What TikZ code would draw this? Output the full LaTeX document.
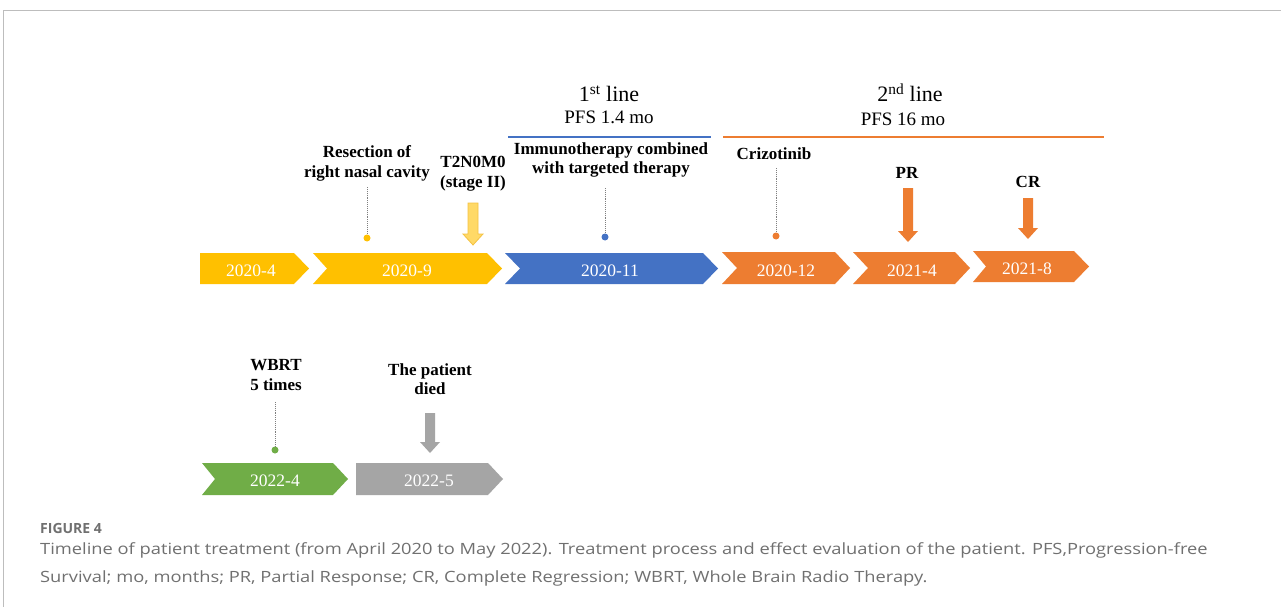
\documentclass[tikz,border=0pt]{standalone}
\usepackage{fontspec}
\setmainfont{Liberation Serif}
\newfontfamily\capfont[FakeStretch=1.18]{Open Sans}
\newfontfamily\figfont{Open Sans}
\definecolor{ycol}{HTML}{FFC000}
\definecolor{bcol}{HTML}{4472C4}
\definecolor{ocol}{HTML}{ED7D31}
\definecolor{gcol}{HTML}{70AD47}
\definecolor{grcol}{HTML}{A5A5A5}
\definecolor{dotcol}{HTML}{7F7F7F}
\definecolor{paley}{HTML}{FFD966}
\definecolor{paleyb}{HTML}{F4C242}
\definecolor{capgray}{HTML}{707070}
\definecolor{framecol}{HTML}{BDBDBD}
\newcommand{\tlchev}[6]{% left, tip, top, bottom, notch depth, colour
  \fill[#6] (#1,#3) -- (#2-15,#3) -- (#2,{(#3+#4)/2}) -- (#2-15,#4) -- (#1,#4) -- (#1+#5,{(#3+#4)/2}) -- cycle;}
\newcommand{\tlblock}[5]{% x, top, head start, tip, colour options
  \path[#5] (#1-5,#2) -- (#1+5,#2) -- (#1+5,#3) -- (#1+10,#3) -- (#1,#4) -- (#1-10,#3) -- (#1-5,#3) -- cycle;}
\begin{document}
\begin{tikzpicture}[x=1pt,y=-1pt,
  lbl/.style={font=\bfseries\fontsize{17}{20}\selectfont, anchor=base, inner sep=0pt},
  datetxt/.style={font=\fontsize{17.5}{20}\selectfont, text=white, anchor=base, inner sep=0pt},
  ttl/.style={font=\fontsize{22}{26}\selectfont, anchor=base, inner sep=0pt},
  pfs/.style={font=\fontsize{19}{22}\selectfont, anchor=base, inner sep=0pt},
  dotline/.style={draw=dotcol, densely dotted, line width=0.9pt},
  evdot/.style={circle, inner sep=0pt, minimum size=7pt},
  captxt/.style={font=\capfont\fontsize{15.5}{18}\selectfont, text=capgray, anchor=base west, inner sep=0pt}]
\useasboundingbox (0,0) rectangle (1281,607);
\fill[white] (0,0) rectangle (1281,607);
% frame
\draw[framecol, line width=1pt] (3,607) -- (3,11) -- (1281,11);

% chevrons, top row
\tlchev{200}{309}{253}{284}{0}{ycol}
\tlchev{313}{502}{253}{284}{14}{ycol}
\tlchev{505}{718}{253}{284}{15}{bcol}
\tlchev{722}{850}{252}{284}{15}{ocol}
\tlchev{853}{970}{252}{284}{15}{ocol}
\tlchev{973}{1089}{251}{282}{13}{ocol}
% chevrons, bottom row
\tlchev{202}{348}{463}{495}{13}{gcol}
\tlchev{356}{503}{463}{495}{0}{grcol}

\node[datetxt] (d1) at (251,276) {2020-4};
\node[datetxt] (d2) at (407,276) {2020-9};
\node[datetxt] (d3) at (610,276) {2020-11};
\node[datetxt] (d4) at (786,276) {2020-12};
\node[datetxt] (d5) at (912,276) {2021-4};
\node[datetxt] (d6) at (1027,274) {2021-8};
\node[datetxt] (d7) at (275,486) {2022-4};
\node[datetxt] (d8) at (429,486) {2022-5};

% line titles
\node[ttl] (l1) at (609,102) {1\textsuperscript{st} line};
\node[pfs] (p1) at (609,124) {PFS 1.4 mo};
\draw[bcol, line width=1.2pt] (508,137) -- (711,137);
\node[ttl] (l2) at (910,102) {2\textsuperscript{nd} line};
\node[pfs] (p2) at (903,125) {PFS 16 mo};
\draw[ocol, line width=1.2pt] (723,137) -- (1104,137);

% event labels
\node[lbl] (res1) at (367,157) {Resection of};
\node[lbl] (res2) at (367,177) {right nasal cavity};
\node[lbl] (tnm1) at (473,167) {T2N0M0};
\node[lbl] (tnm2) at (473,187) {(stage II)};
\node[lbl] (imm1) at (611,154) {Immunotherapy combined};
\node[lbl] (imm2) at (611,173) {with targeted therapy};
\node[lbl] (criz) at (774,159) {Crizotinib};
\node[lbl] (pr) at (907,178) {PR};
\node[lbl] (cr) at (1028,187) {CR};
\node[lbl] (wb1) at (276,370) {WBRT};
\node[lbl] (wb2) at (276,390) {5 times};
\node[lbl] (die1) at (430,375) {The patient};
\node[lbl] (die2) at (430,394) {died};

% dotted pointers with dots
\node[evdot, fill=ycol] (dres) at (367,238) {};
\coordinate (dresT) at (367,187);
\draw[dotline] (dresT) -- (dres);
\node[evdot, fill=bcol] (dimm) at (605,237) {};
\coordinate (dimmT) at (605,188);
\draw[dotline] (dimmT) -- (dimm);
\node[evdot, fill=ocol] (dcriz) at (776,236) {};
\coordinate (dcrizT) at (776,168);
\draw[dotline] (dcrizT) -- (dcriz);
\node[evdot, fill=gcol] (dwb) at (275,450) {};
\coordinate (dwbT) at (275,402);
\draw[dotline] (dwbT) -- (dwb);

% block arrows
\tlblock{473}{203}{234}{245}{fill=paley, draw=paleyb, line width=0.8pt}
\tlblock{908}{188}{231}{242}{fill=ocol}
\tlblock{1028}{198}{228}{239}{fill=ocol}
\tlblock{430}{413}{442}{453}{fill=grcol}

% caption
\node[font=\figfont\bfseries\fontsize{14}{16}\selectfont, text=capgray, anchor=base west, inner sep=0pt] (fig) at (40,533) {FIGURE 4};
\node[captxt] (cap1) at (40,554) {Timeline of patient treatment (from April 2020 to May 2022). Treatment process and effect evaluation of the patient. PFS,Progression-free};
\node[captxt] (cap2) at (40,582) {Survival; mo, months; PR, Partial Response; CR, Complete Regression; WBRT, Whole Brain Radio Therapy.};
\end{tikzpicture}
\end{document}
